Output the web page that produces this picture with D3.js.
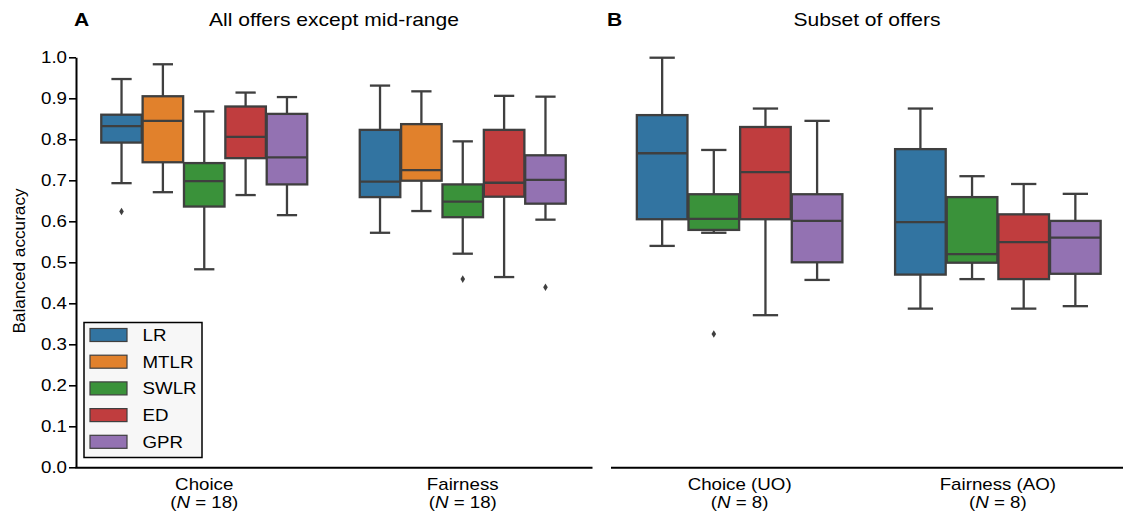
<!DOCTYPE html>
<html><head><meta charset="utf-8">
<script src="https://cdn.jsdelivr.net/npm/d3@7"></script>
<style>body{margin:0;background:#fff}svg text{font-family:"Liberation Sans",Arial,Helvetica,sans-serif;fill:#000}</style>
</head><body><svg id="chart" width="1123" height="517"></svg>
<script>
// ---------- data ----------
const modelsA = ["LR", "MTLR", "SWLR", "ED", "GPR"];
const modelsB = ["LR", "SWLR", "ED", "GPR"];
const modelColors = ["#3274a1", "#e1812c", "#3a923a", "#c03d3e", "#9372b2"]; // LR, MTLR, SWLR, ED, GPR
const groupsA = ["Choice", "Fairness"];
const groupsB = ["Choice (UO)", "Fairness (AO)"];
const sizesA = [18, 18];
const sizesB = [8, 8];
const yTicks = [0.0, 0.1, 0.2, 0.3, 0.4, 0.5, 0.6, 0.7, 0.8, 0.9, 1.0];

// five-number summaries per model: [lower whisker, Q1, median, Q3, upper whisker]
const choiceA = [
  [0.693, 0.792, 0.832, 0.860, 0.947],
  [0.671, 0.744, 0.845, 0.905, 0.983],
  [0.483, 0.636, 0.698, 0.742, 0.868],
  [0.664, 0.754, 0.806, 0.880, 0.914],
  [0.615, 0.690, 0.756, 0.862, 0.903]
];
const choiceAOutliers = [[0.624], [], [], [], []];
const fairnessA = [
  [0.572, 0.659, 0.697, 0.823, 0.931],
  [0.625, 0.699, 0.725, 0.837, 0.917],
  [0.521, 0.610, 0.648, 0.690, 0.795],
  [0.464, 0.660, 0.694, 0.823, 0.906],
  [0.604, 0.643, 0.701, 0.761, 0.904]
];
const fairnessAOutliers = [[], [], [0.459], [], [0.439]];
const choiceB = [
  [0.540, 0.605, 0.766, 0.859, 0.999],
  [0.572, 0.579, 0.606, 0.666, 0.774],
  [0.371, 0.605, 0.720, 0.830, 0.875],
  [0.457, 0.500, 0.601, 0.666, 0.845]
];
const choiceBOutliers = [[], [0.325], [], []];
const fairnessB = [
  [0.387, 0.470, 0.598, 0.776, 0.875],
  [0.459, 0.499, 0.520, 0.659, 0.710],
  [0.387, 0.459, 0.549, 0.617, 0.691],
  [0.393, 0.472, 0.560, 0.601, 0.667]
];
const fairnessBOutliers = [[], [], [], []];

// ---------- drawing ----------
const SX = 1.17; // horizontal text stretch of the source figure
const LINE = "#3f3f3f";
const LW = 2.3;
const svg = d3.select("#chart");
const colorOf = d3.scaleOrdinal().domain(modelsA).range(modelColors);
const y = d3.scaleLinear().domain([0, 1]).range([467.3, 57.3]);

function label(g, x, yy, str, size, anchor, weight) {
  return g.append("text")
    .attr("transform", `translate(${x},${yy}) scale(${SX},1)`)
    .attr("text-anchor", anchor || "middle")
    .attr("font-size", size)
    .attr("font-weight", weight || "normal")
    .text(str);
}

function panel(range, groups, sizes, models, statsList, outlierList) {
  const x = d3.scaleLinear().domain([-0.5, 1.5]).range(range);
  const g = svg.append("g");
  const hueWidth = 0.8 / models.length;
  const boxW = Math.abs(x(hueWidth * 0.98) - x(0));

  // x axis line
  const ax = d3.axisBottom(x).tickValues([0, 1]).tickSize(0).tickSizeOuter(0).tickFormat("");
  const axg = g.append("g").attr("transform", `translate(0,${y(0)})`).call(ax);
  axg.select(".domain").attr("stroke", "#000").attr("stroke-width", 2);

  groups.forEach((grp, gi) => {
    // tick labels
    label(g, x(gi), 490, grp, 16);
    const t = g.append("text")
      .attr("transform", `translate(${x(gi)},508) scale(${SX},1)`)
      .attr("text-anchor", "middle").attr("font-size", 16);
    t.append("tspan").text("(");
    t.append("tspan").attr("font-style", "italic").text("N");
    t.append("tspan").text(" = " + sizes[gi] + ")");

    statsList[gi].forEach((s, mi) => {
      const cx = x(gi - 0.4 + hueWidth * (mi + 0.5));
      const [lo, q1, med, q3, hi] = s;
      const bg = g.append("g");
      // whiskers
      bg.append("line").attr("x1", cx).attr("x2", cx).attr("y1", y(q3)).attr("y2", y(hi));
      bg.append("line").attr("x1", cx).attr("x2", cx).attr("y1", y(q1)).attr("y2", y(lo));
      bg.append("line").attr("x1", cx - boxW / 4).attr("x2", cx + boxW / 4).attr("y1", y(hi)).attr("y2", y(hi));
      bg.append("line").attr("x1", cx - boxW / 4).attr("x2", cx + boxW / 4).attr("y1", y(lo)).attr("y2", y(lo));
      bg.selectAll("line").attr("stroke", LINE).attr("stroke-width", LW);
      // box
      bg.append("rect").attr("x", cx - boxW / 2).attr("width", boxW)
        .attr("y", y(q3)).attr("height", y(q1) - y(q3))
        .attr("fill", colorOf(models[mi])).attr("stroke", LINE).attr("stroke-width", LW);
      bg.append("line").attr("x1", cx - boxW / 2).attr("x2", cx + boxW / 2)
        .attr("y1", y(med)).attr("y2", y(med)).attr("stroke", LINE).attr("stroke-width", LW);
      // outliers (thin diamonds)
      outlierList[gi][mi].forEach(v => {
        bg.append("path").attr("d", `M${cx},${y(v) - 3.8}L${cx + 2.3},${y(v)}L${cx},${y(v) + 3.8}L${cx - 2.3},${y(v)}Z`)
          .attr("fill", LINE);
      });
    });
  });
  return x;
}

panel([75, 592], groupsA, sizesA, modelsA, [choiceA, fairnessA], [choiceAOutliers, fairnessAOutliers]);
panel([610.5, 1127], groupsB, sizesB, modelsB, [choiceB, fairnessB], [choiceBOutliers, fairnessBOutliers]);

// y axis (panel A only)
const yAxis = d3.axisLeft(y).tickValues(yTicks).tickFormat(d3.format(".1f")).tickSize(7).tickSizeOuter(0).tickPadding(2);
const yg = svg.append("g").attr("transform", "translate(76,0)").call(yAxis);
yg.select(".domain").attr("stroke", "#000").attr("stroke-width", 2);
yg.selectAll(".tick line").attr("stroke", "#000").attr("stroke-width", 1.6);
yg.selectAll(".tick text").attr("font-size", 16).attr("fill", "#000")
  .attr("font-family", "'Liberation Sans',Arial,sans-serif")
  .attr("x", -9 / SX).attr("transform", `scale(${SX},1)`);

svg.append("text").attr("transform", "translate(25,261) rotate(-90)")
  .attr("text-anchor", "middle").attr("font-size", 17.2).text("Balanced accuracy");

// titles
label(svg, 74, 26, "A", 18, "start", "bold");
label(svg, 334, 26, "All offers except mid-range", 18);
label(svg, 607, 26, "B", 18, "start", "bold");
label(svg, 867, 26, "Subset of offers", 18);

// legend
const lg = svg.append("g");
lg.append("rect").attr("x", 84).attr("y", 322.5).attr("width", 118).attr("height", 135)
  .attr("fill", "#f7f7f7").attr("stroke", "#000").attr("stroke-width", 1.5);
modelsA.forEach((m, i) => {
  const cy = 335 + i * 26.7;
  lg.append("rect").attr("x", 90).attr("y", cy - 6.5).attr("width", 37).attr("height", 13)
    .attr("fill", colorOf(m)).attr("stroke", LINE).attr("stroke-width", 1.2);
  label(lg, 142.5, cy + 6, m, 16, "start");
});
</script></body></html>
